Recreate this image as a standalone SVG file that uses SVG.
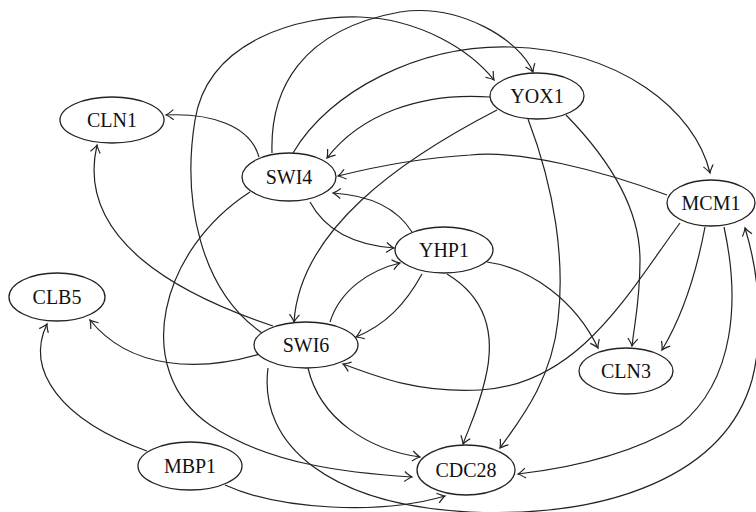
<svg xmlns="http://www.w3.org/2000/svg" width="756" height="512" viewBox="0 0 756 512">
<style>
.n ellipse{fill:#fff;stroke:#222;stroke-width:1.3}
.n text{font-family:"Liberation Serif",serif;font-size:20px;fill:#111;text-anchor:middle}
.e path{fill:none;stroke:#222;stroke-width:1.2;marker-end:url(#a)}
</style>
<defs>
<marker id="a" viewBox="-9 -7 11 14" refX="0" refY="0" markerWidth="11" markerHeight="14" markerUnits="userSpaceOnUse" orient="auto">
<path d="M-7.5,-5 Q-2.5,-1 0,0 Q-2.5,1 -7.5,5" fill="none" stroke="#222" stroke-width="1.2"/>
</marker>
</defs>
<rect width="756" height="512" fill="#fff"/>
<g class="e" id="connectors">
<path d="M259,157 C250,125 210,113 166,115"/>
<path d="M273,326 C180,295 75,240 97,145"/>
<path d="M262,333 C200,290 182,200 195,120 C208,40 300,15 360,17 C420,19 470,50 494,80"/>
<path d="M272,153 C270,90 300,30 400,12 C460,3 520,40 533,72"/>
<path d="M293,153 C330,90 420,45 510,47 C620,50 695,110 710,173"/>
<path d="M490,97 C420,92 360,115 327,158"/>
<path d="M497,110 C400,160 300,230 294,322"/>
<path d="M667,195 C600,170 520,150 470,155 C420,158 370,168 338,176"/>
<path d="M412,232 C395,205 365,195 333,193"/>
<path d="M310,202 C325,230 355,245 394,248"/>
<path d="M528,119 C555,190 565,260 558,320 C552,380 520,420 500,448"/>
<path d="M566,115 C610,160 640,210 640,260 C640,300 635,320 632,346"/>
<path d="M680,223 C630,290 580,385 480,390 C420,393 380,378 343,364"/>
<path d="M705,227 C695,280 680,320 662,350"/>
<path d="M724,227 C740,300 735,380 680,425 C630,455 570,468 518,474"/>
<path d="M268,368 C258,445 330,505 470,512 C610,518 725,475 752,380 C765,330 758,270 745,228"/>
<path d="M225,485 C280,510 380,515 445,496"/>
<path d="M147,451 C60,420 25,370 47,324"/>
<path d="M260,354 C200,372 130,370 90,320"/>
<path d="M250,192 C160,250 130,370 210,425 C270,465 350,473 412,477"/>
<path d="M308,368 C320,420 370,450 420,457"/>
<path d="M447,274 C490,300 495,340 485,380 C478,410 470,425 463,444"/>
<path d="M487,262 C530,268 575,300 598,348"/>
<path d="M330,322 C340,290 370,270 400,263"/>
<path d="M422,274 C405,305 385,325 356,337"/>
</g>
<g class="n" id="CLN1"><ellipse cx="112" cy="120" rx="52" ry="23"/><text x="112" y="127">CLN1</text></g>
<g class="n" id="SWI4"><ellipse cx="289" cy="177" rx="47" ry="24"/><text x="289" y="184">SWI4</text></g>
<g class="n" id="YOX1"><ellipse cx="537" cy="96" rx="47" ry="23"/><text x="537" y="103">YOX1</text></g>
<g class="n" id="MCM1"><ellipse cx="711" cy="203" rx="44" ry="23"/><text x="711" y="210">MCM1</text></g>
<g class="n" id="YHP1"><ellipse cx="444" cy="250" rx="49" ry="23"/><text x="444" y="257">YHP1</text></g>
<g class="n" id="SWI6"><ellipse cx="306" cy="345" rx="52" ry="23"/><text x="306" y="352">SWI6</text></g>
<g class="n" id="CLB5"><ellipse cx="57" cy="297" rx="48" ry="24"/><text x="57" y="304">CLB5</text></g>
<g class="n" id="MBP1"><ellipse cx="190" cy="466" rx="52" ry="24"/><text x="190" y="473">MBP1</text></g>
<g class="n" id="CDC28"><ellipse cx="466" cy="470" rx="49" ry="25"/><text x="466" y="477">CDC28</text></g>
<g class="n" id="CLN3"><ellipse cx="626" cy="371" rx="47" ry="23"/><text x="626" y="378">CLN3</text></g>
</svg>
